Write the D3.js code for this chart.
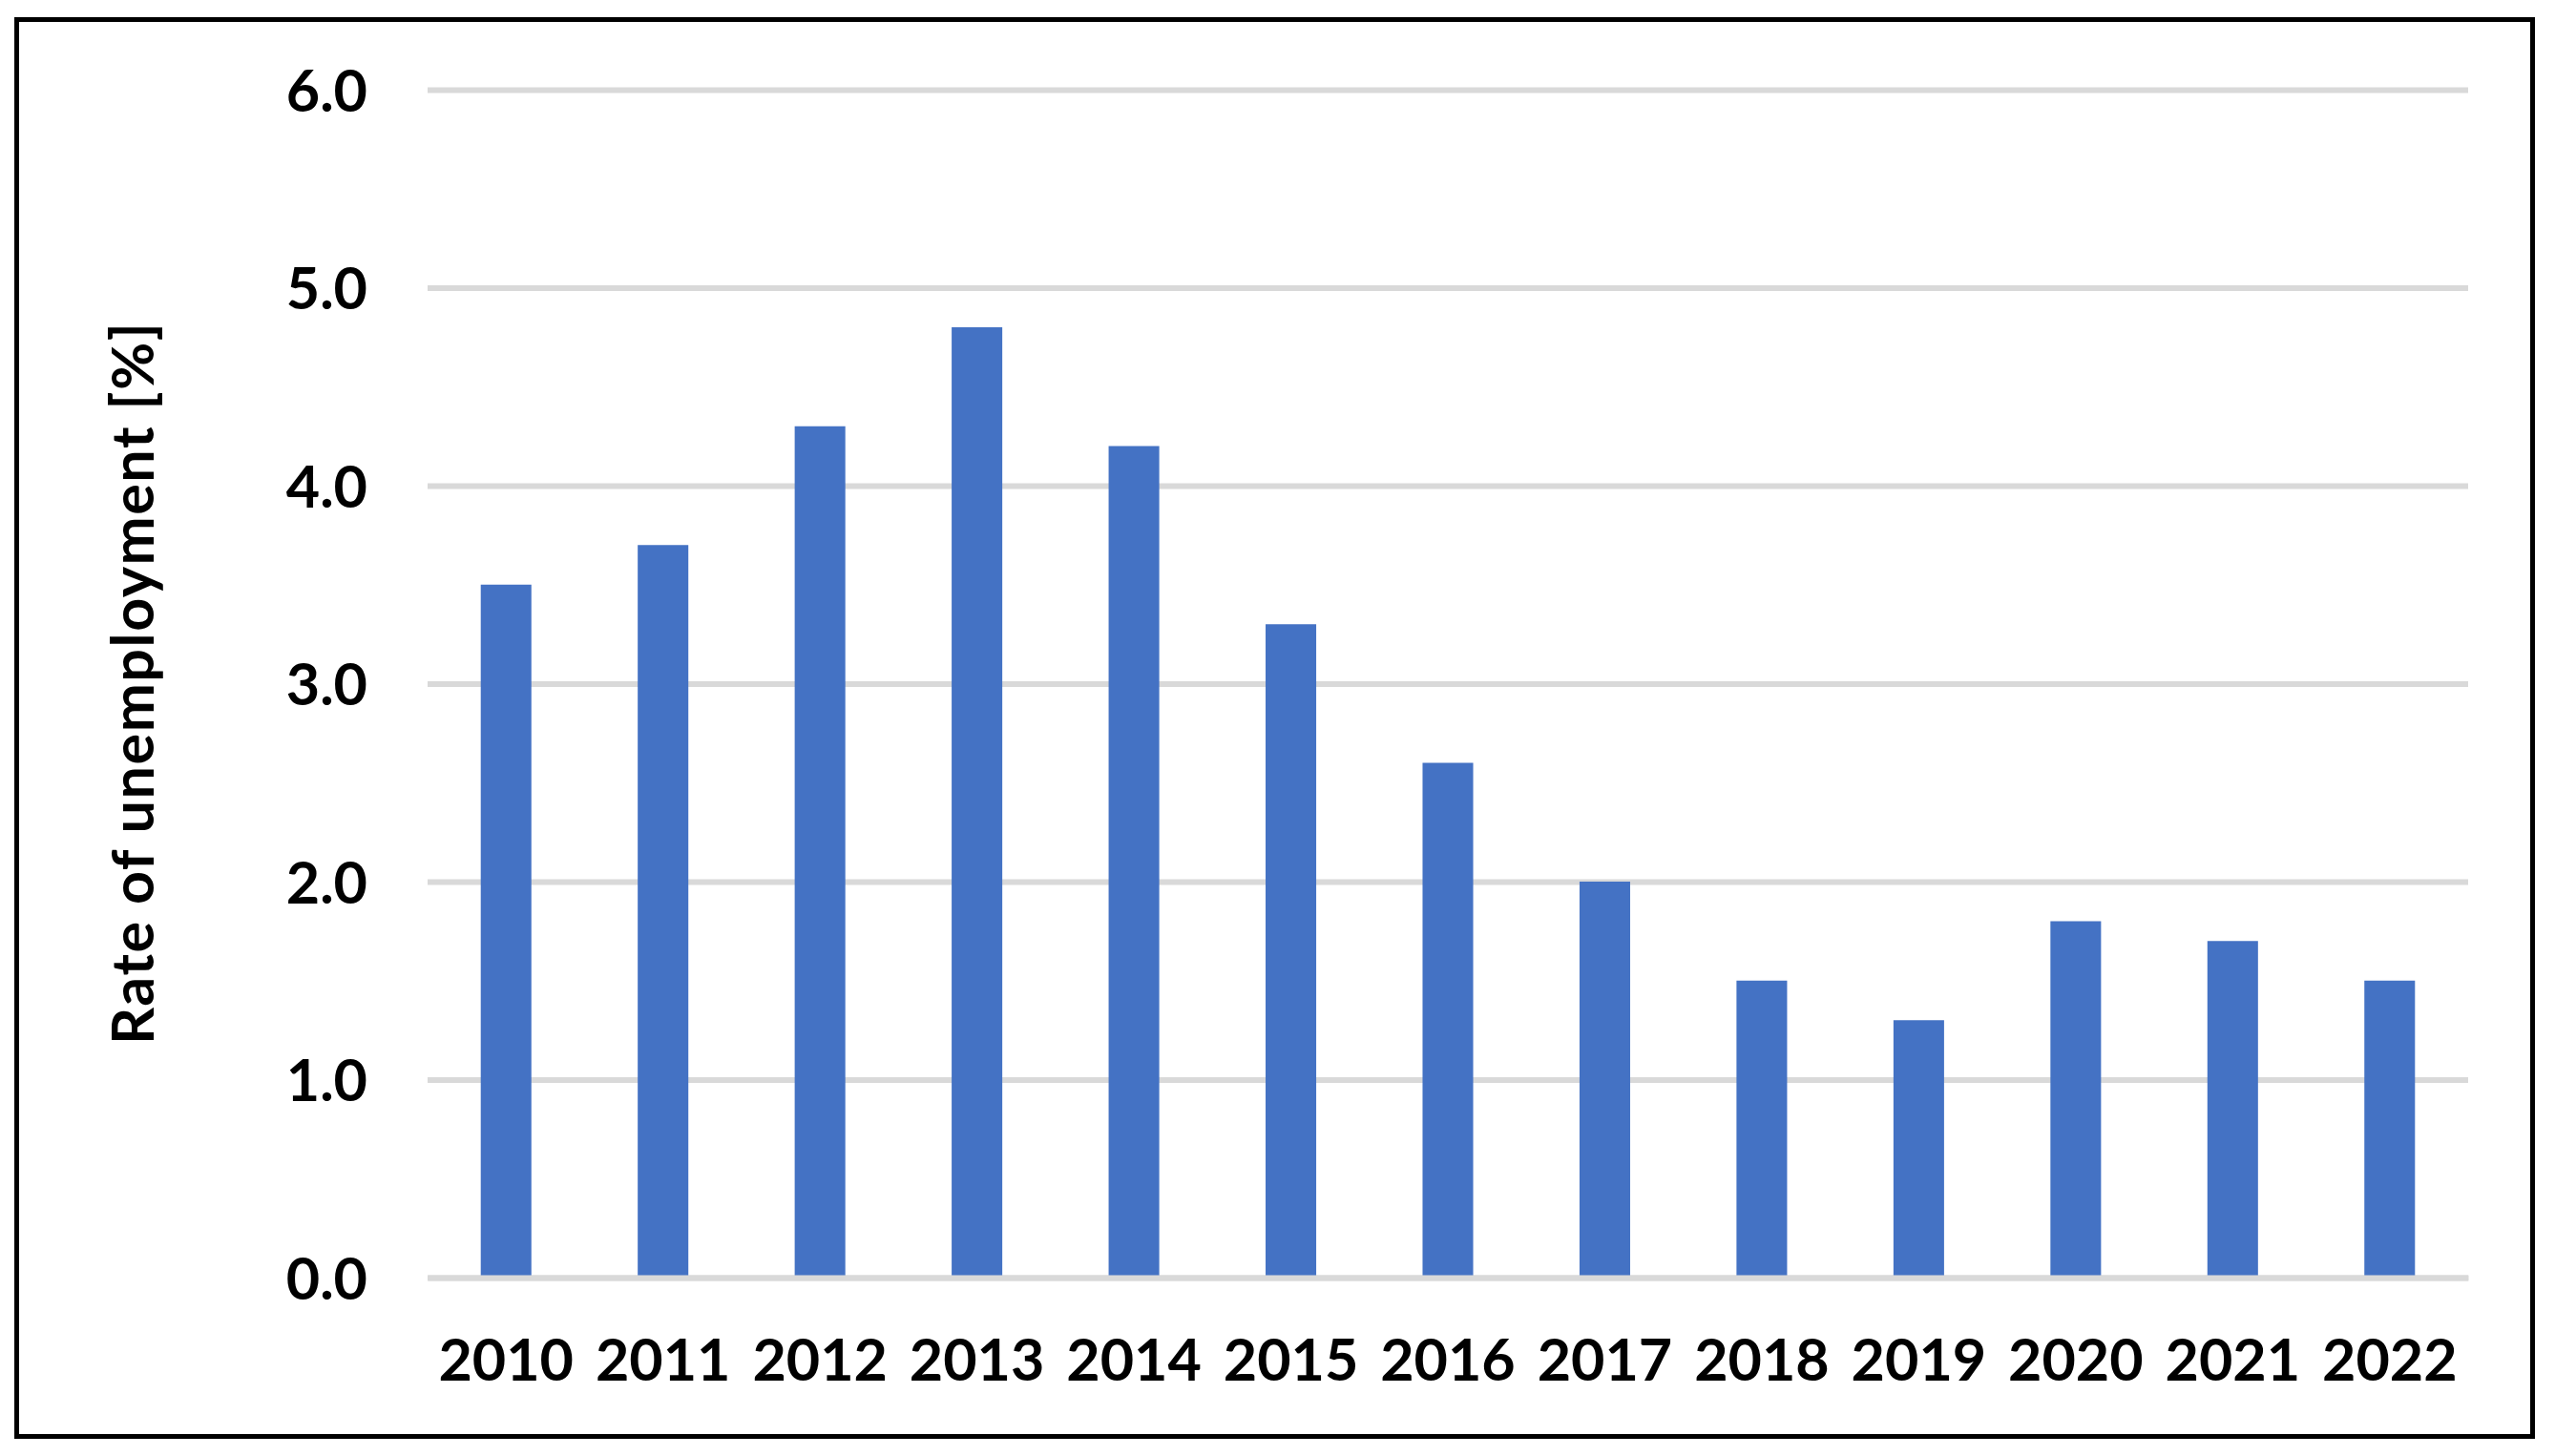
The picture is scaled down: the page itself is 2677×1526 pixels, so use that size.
<!DOCTYPE html>
<html>
<head>
<meta charset="utf-8">
<script src="https://cdn.jsdelivr.net/npm/d3@7"></script>
<style>
  body { margin: 0; background: #fff; }
  text { font-family: Lato, "Open Sans", sans-serif; font-weight: bold; fill: #000; }
</style>
</head>
<body>
<div id="wrapper"></div>
<script>
// data
const years = ["2010", "2011", "2012", "2013", "2014", "2015", "2016",
  "2017", "2018", "2019", "2020", "2021", "2022"];
const rates = [3.5, 3.7, 4.3, 4.8, 4.2, 3.3, 2.6, 2.0, 1.5, 1.3, 1.8, 1.7, 1.5];
const yTicks = [0, 1, 2, 3, 4, 5, 6];
const yTitle = "Rate of unemployment [%]";

function drawBars() {
  const dataset = years.map((y, i) => ({ year: y, rate: rates[i] }));
  const xAccessor = d => d.year;
  const yAccessor = d => d.rate;

  // dimensions
  let dimensions = {
    width: 2677,
    height: 1526,
    margin: { top: 94, right: 91, bottom: 187, left: 448 },
  };
  dimensions.boundedWidth = dimensions.width - dimensions.margin.left - dimensions.margin.right;
  dimensions.boundedHeight = dimensions.height - dimensions.margin.top - dimensions.margin.bottom;

  const fontSize = 61;

  // canvas
  const wrapper = d3.select('#wrapper')
    .append('svg')
    .attr('width', dimensions.width)
    .attr('height', dimensions.height);

  // outer frame
  wrapper.append('rect')
    .attr('x', 17.5)
    .attr('y', 20.5)
    .attr('width', 2636)
    .attr('height', 1485)
    .attr('fill', 'none')
    .attr('stroke', '#000')
    .attr('stroke-width', 5);

  const bounds = wrapper.append('g')
    .attr('transform', `translate(${dimensions.margin.left}, ${dimensions.margin.top})`);

  // scales
  const xScale = d3.scaleBand()
    .domain(years)
    .range([0, dimensions.boundedWidth])
    .paddingInner(0.6775)
    .paddingOuter(0.33875);

  const yScale = d3.scaleLinear()
    .domain([0, 6])
    .range([dimensions.boundedHeight, 0]);

  // gridlines + y labels
  const yAxisGenerator = d3.axisLeft(yScale)
    .tickValues(yTicks)
    .tickFormat(d3.format('.1f'))
    .tickSize(-dimensions.boundedWidth)
    .tickPadding(63);
  const yAxis = bounds.append('g').call(yAxisGenerator);
  yAxis.select('.domain').remove();
  yAxis.selectAll('.tick line')
    .attr('stroke', '#D9D9D9')
    .attr('stroke-width', 6);
  yAxis.selectAll('.tick text')
    .attr('dy', null)
    .attr('y', 22)
    .style('font-size', fontSize + 'px')
    .style('font-family', 'Lato, sans-serif')
    .style('font-weight', 'bold')
    .attr('fill', '#000');

  // bars
  bounds.append('g')
    .selectAll('rect')
    .data(dataset)
    .join('rect')
    .attr('x', d => xScale(xAccessor(d)))
    .attr('y', d => yScale(yAccessor(d)))
    .attr('width', xScale.bandwidth())
    .attr('height', d => dimensions.boundedHeight - yScale(yAccessor(d)))
    .attr('fill', '#4472C4');

  // x axis (grey base line + year labels)
  const xAxisGenerator = d3.axisBottom(xScale)
    .tickSize(0)
    .tickSizeOuter(0);
  const xAxis = bounds.append('g')
    .attr('transform', `translate(0, ${dimensions.boundedHeight})`)
    .call(xAxisGenerator);
  xAxis.select('.domain')
    .attr('stroke', '#D9D9D9')
    .attr('stroke-width', 6);
  xAxis.selectAll('.tick text')
    .attr('dy', null)
    .attr('y', 108)
    .style('font-size', fontSize + 'px')
    .style('font-family', 'Lato, sans-serif')
    .style('font-weight', 'bold')
    .attr('fill', '#000');

  // y title
  wrapper.append('text')
    .attr('transform', `translate(161, ${dimensions.margin.top + dimensions.boundedHeight / 2}) rotate(-90)`)
    .attr('text-anchor', 'middle')
    .attr('textLength', 757)
    .attr('lengthAdjust', 'spacing')
    .style('font-size', fontSize + 'px')
    .text(yTitle);
}
drawBars();
</script>
</body>
</html>
